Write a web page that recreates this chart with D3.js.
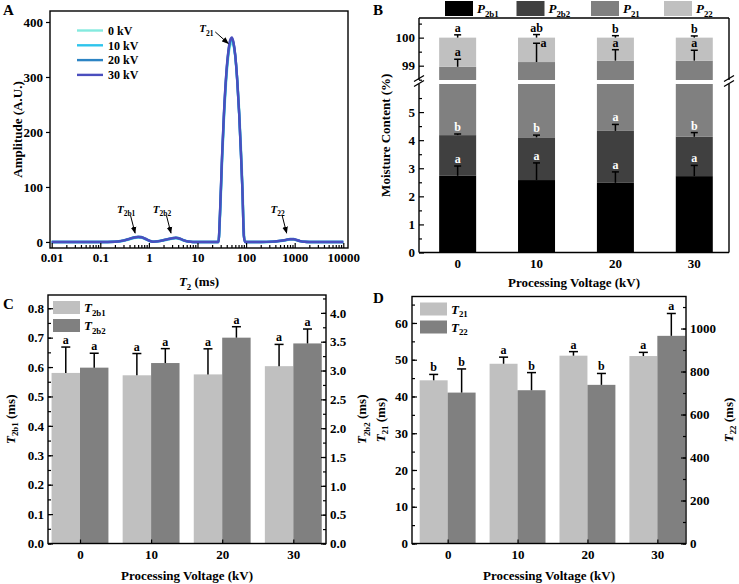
<!DOCTYPE html>
<html><head><meta charset="utf-8">
<script src="https://cdn.jsdelivr.net/npm/d3@7"></script>
<style>
body{margin:0;background:#fff}
svg{display:block}
text{font-family:"Liberation Serif","Times New Roman",serif;font-weight:bold;fill:#000}
</style></head><body>
<svg id="fig" width="739" height="584"></svg>
<script>
// ================= DATA =================
// Panel A : T2 relaxation spectra
const t2Grid = [0.01,0.1,0.2,0.3,0.4,0.5,0.6,0.7,0.85,1.0, 1.2,1.5,2.0,2.5,3.0,3.6,4.3,5.2,6.5,8, 20,27,29,32,35,39,43,47,51,55, 60,66,72,78,84,90,95,200,350,500, 650,800,950,1100,1300,1600,2000,10000];
const amp0kV  = [0,0,0.4,2,4.6,7,8,7.6,5,2.2, 0.5,0.9,2.6,4.5,5.8,6.6,5.3,2.6,0.6,0, 0,0,40,140,220,292,336,357,362,357, 338,296,242,178,110,25,0,0,0.4,1.6, 3,4.2,4.3,3,1.2,0.2,0,0];
const amp10kV = [0,0,0.4,2.2,5,7.5,8.5,8,5.2,2.3, 0.5,1,2.8,4.8,6.2,7,5.6,2.8,0.7,0, 0,0,48,150,228,300,342,363,368,360, 336,290,232,163,93,10,0,0,0.4,1.8, 3.2,4.6,4.6,3.2,1.4,0.3,0,0];
const amp20kV = [0,0,0.5,2.8,6,8.5,9.5,9,6,2.8, 0.6,1.2,3.5,5.5,7,8,6.5,3.2,0.8,0, 0,0,50,154,232,303,344,365,370,362, 338,291,233,165,94,11,0,0,0.5,2.2, 3.8,5.5,5.5,3.8,1.6,0.3,0,0];
const amp30kV = [0,0,0.5,2.5,5.5,8,9,8.5,5.5,2.5, 0.5,1,3,5,6.5,7.5,6,3,0.8,0, 0,0,52,157,234,305,346,367,372,363, 339,292,234,166,95,11,0,0,0.5,2, 3.5,5,5,3.5,1.5,0.3,0,0];
const seriesNamesA = ["0 kV","10 kV","20 kV","30 kV"];
const xTicksA = [0.01,0.1,1,10,100,1000,10000];
const xTickLabelsA = ["0.01","0.1","1","10","100","1000","10000"];
const yTicksA = [0,100,200,300,400];
const peakLabels = [
  {main:"T", sub:"2b1", t:0.52, amp:16},
  {main:"T", sub:"2b2", t:2.85, amp:16},
  {main:"T", sub:"21",  t:43,   amp:361},
  {main:"T", sub:"22",  t:684,  amp:16}
];

// Shared categories
const voltages = [0,10,20,30];
const voltageLabels = ["0","10","20","30"];

// Panel B : proportions (%)
const p2b1 = [2.73, 2.58, 2.48, 2.72];
const p2b1Err = [0.35, 0.61, 0.39, 0.38];
const p2b1Let = ["a","a","a","a"];
const p2b2 = [1.45, 1.52, 1.85, 1.40];
const p2b2Err = [0.04, 0.08, 0.23, 0.15];
const p2b2Let = ["b","b","a","b"];
const p21 = [94.78, 95.03, 94.85, 95.06];
const p21Err = [0.27, 0.67, 0.39, 0.37];
const p21Let = ["a","a","a","a"];
const p22 = [1.04, 0.87, 0.82, 0.82];
const p22Err = [0.10, 0.11, 0.07, 0.06];
const p22Let = ["a","ab","b","b"];
const yTicksBLow = [0,1,2,3,4,5];
const yTicksBUp = [99,100];

// Panel C : T2b1 / T2b2 (ms)
const t2b1 = [0.580, 0.572, 0.575, 0.603];
const t2b1Err = [0.088, 0.074, 0.087, 0.074];
const t2b1Let = ["a","a","a","a"];
const t2b2 = [3.05, 3.13, 3.57, 3.47];
const t2b2Err = [0.25, 0.25, 0.19, 0.25];
const t2b2Let = ["a","a","a","a"];
const yTicksCL = [0,0.1,0.2,0.3,0.4,0.5,0.6,0.7,0.8];
const yTicksCR = [0,0.5,1.0,1.5,2.0,2.5,3.0,3.5,4.0];

// Panel D : T21 / T22 (ms)
const t21 = [44.4, 48.9, 51.1, 51.0];
const t21Err = [1.6, 1.8, 1.1, 1.0];
const t21Let = ["b","a","a","a"];
const t22 = [702, 713, 738, 966];
const t22Err = [110, 82, 53, 104];
const t22Let = ["b","b","b","a"];
const yTicksDL = [0,10,20,30,40,50,60];
const yTicksDR = [0,200,400,600,800,1000];

// ================= DRAWING =================
const svg = d3.select("#fig");
svg.append("rect").attr("width",739).attr("height",584).attr("fill","#fff");
const FF = "Liberation Serif, Times New Roman, serif";
const TF = 13;   // tick font
const LF = 13;   // label font

function richText(parent, x, y, parts, o) {
  o = o || {};
  const size = o.size || LF;
  const txt = parent.append("text").attr("x", x).attr("y", y)
    .attr("font-size", size).attr("text-anchor", o.anchor || "start");
  if (o.fill) txt.style("fill", o.fill);
  let shifted = false;
  parts.forEach(p => {
    const ts = txt.append("tspan").text(p.t);
    if (p.i) ts.attr("font-style", "italic");
    if (p.sub) { ts.attr("font-size", size * 0.68).attr("dy", size * 0.28); shifted = true; }
    else if (shifted) { ts.attr("dy", -size * 0.28); shifted = false; }
  });
  if (o.rotate) txt.attr("transform", `rotate(${o.rotate},${x},${y})`);
  return txt;
}
function styleAxis(g) {
  g.attr("font-family", FF).attr("font-size", TF).attr("font-weight", "bold");
  g.select(".domain").remove();
  g.selectAll(".tick line").attr("stroke", "#000").attr("stroke-width", 1.2);
  g.selectAll(".tick text").style("fill", "#000");
}
function boxLine(g, x1, y1, x2, y2) {
  g.append("line").attr("x1",x1).attr("y1",y1).attr("x2",x2).attr("y2",y2)
    .attr("stroke","#000").attr("stroke-width",1.4);
}
function minorVals(scale, step) {
  const d = scale.domain(); const out = [];
  for (let v = 0; v <= d[1] + 1e-9; v += step) out.push(+v.toFixed(6));
  return out.filter(v => v >= d[0]);
}

// ---------- Panel A ----------
(function(){
  const L=50, R=348, T=11, B=248;
  const g = svg.append("g");
  const x = d3.scaleLog().domain([0.00923, 12500]).range([L, R]);
  const y = d3.scaleLinear().domain([-11, 420]).range([B, T]);
  const colors = ["#84EADF", "#2EC4EC", "#2C84C4", "#4A4EBE"];
  const data = [amp0kV, amp10kV, amp20kV, amp30kV];
  const line = d3.line().x(d => x(d[0])).y(d => y(d[1])).curve(d3.curveMonotoneX);
  data.forEach((arr, k) => {
    g.append("path").datum(t2Grid.map((t, i) => [t, arr[i]]))
      .attr("d", line).attr("fill", "none").attr("stroke", colors[k]).attr("stroke-width", 2.4);
  });
  // minor ticks on x
  const minors = [];
  for (let e = -2; e < 4; e++) for (let m = 2; m <= 9; m++) minors.push(m * Math.pow(10, e));
  const gm = g.append("g").attr("transform", `translate(0,${B})`)
    .call(d3.axisBottom(x).tickValues(minors).tickSizeInner(-3).tickSizeOuter(0).tickFormat(""));
  styleAxis(gm);
  const gx = g.append("g").attr("transform", `translate(0,${B})`)
    .call(d3.axisBottom(x).tickValues(xTicksA).tickSizeInner(-5).tickSizeOuter(0).tickPadding(5)
      .tickFormat((d, i) => xTickLabelsA[i]));
  styleAxis(gx);
  const gy = g.append("g").attr("transform", `translate(${L},0)`)
    .call(d3.axisLeft(y).tickValues(yTicksA).tickSizeInner(4).tickSizeOuter(0).tickPadding(3));
  styleAxis(gy);
  g.append("rect").attr("x", L).attr("y", T).attr("width", R - L).attr("height", B - T)
    .attr("fill", "none").attr("stroke", "#000").attr("stroke-width", 1.4);
  // legend
  seriesNamesA.forEach((n, k) => {
    const yy = 30.5 + k * 14.8;
    g.append("line").attr("x1", 77).attr("x2", 103).attr("y1", yy).attr("y2", yy)
      .attr("stroke", colors[k]).attr("stroke-width", 2.4);
    g.append("text").attr("x", 108).attr("y", yy + 4.3).attr("font-size", 12).text(n);
  });
  // peak annotations
  const defs = svg.append("defs");
  defs.append("marker").attr("id", "arr").attr("viewBox", "0 0 10 10").attr("refX", 9).attr("refY", 5)
    .attr("markerWidth", 7).attr("markerHeight", 7).attr("orient", "auto-start-reverse")
    .append("path").attr("d", "M0,1 L10,5 L0,9 z").attr("fill", "#000");
  peakLabels.forEach(p => {
    const px = x(p.t), py = y(p.amp);
    let sx, sy, tx, ty;
    if (p.sub === "21") { sx = px - 13; sy = py - 11.5; tx = px - 22; ty = py - 11; }
    else { sx = px - 4.5; sy = py - 17.5; tx = px - 9; ty = py - 20; }
    g.append("line").attr("x1", sx).attr("y1", sy).attr("x2", px).attr("y2", py)
      .attr("stroke", "#000").attr("stroke-width", 1).attr("marker-end", "url(#arr)");
    richText(g, tx, ty, [{t: p.main, i: true}, {t: p.sub, sub: true}], {size: 11, anchor: "middle"});
  });
  richText(g, (L + R) / 2, 286, [{t:"T", i:true}, {t:"2", sub:true}, {t:" (ms)"}], {anchor: "middle"});
  g.append("text").attr("transform", `translate(21.5,${(T + B) / 2}) rotate(-90)`)
    .attr("text-anchor", "middle").attr("font-size", LF).text("Amplitude (A.U.)");
  g.append("text").attr("x", 3).attr("y", 15).attr("font-size", 15).text("A");
})();

// ---------- Panel B ----------
(function(){
  const L=419, R=729, T=18, B=252.5;
  const g = svg.append("g");
  const x = d3.scaleLinear().domain([-4.9, 34.4]).range([L, R]);
  const yL = d3.scaleLinear().domain([0, 6]).range([B, 84]);
  const yU = d3.scaleLinear().domain([98.49, 100.70]).range([80, T]);
  const bw = 37;
  const series = [
    {v:p2b1, e:p2b1Err, l:p2b1Let, c:"#000000", lc:"#fff", name:"2b1"},
    {v:p2b2, e:p2b2Err, l:p2b2Let, c:"#404040", lc:"#fff", name:"2b2"},
    {v:p21,  e:p21Err,  l:p21Let,  c:"#808080", lc:"#000", name:"21"},
    {v:p22,  e:p22Err,  l:p22Let,  c:"#C0C0C0", lc:"#000", name:"22"}
  ];
  const lowMax = yL.domain()[1], upMin = yU.domain()[0], upMax = yU.domain()[1];
  const sc = v => v < 50 ? yL(v) : yU(v);
  voltages.forEach((vlt, i) => {
    const cx = x(vlt);
    let base = 0;
    const info = [];
    series.forEach(s => {
      const lo = base, hi = base + s.v[i]; base = hi;
      if (lo < lowMax) {
        const y0 = yL(lo), y1 = yL(Math.min(hi, lowMax));
        g.append("rect").attr("x", cx - bw/2).attr("y", y1).attr("width", bw).attr("height", y0 - y1).attr("fill", s.c);
      }
      if (hi > upMin) {
        const y0 = yU(Math.max(lo, upMin)), y1 = yU(Math.min(hi, upMax));
        g.append("rect").attr("x", cx - bw/2).attr("y", y1).attr("width", bw).attr("height", y0 - y1).attr("fill", s.c);
      }
      info.push({hi: hi, cap: hi + s.e[i], s: s});
    });
    info.forEach((d, k) => {
      const y0 = sc(d.hi), y1 = sc(d.cap);
      g.append("line").attr("x1", cx).attr("x2", cx).attr("y1", y0).attr("y2", y1).attr("stroke", "#000").attr("stroke-width", 1.5);
      g.append("line").attr("x1", cx - 3.5).attr("x2", cx + 3.5).attr("y1", y1).attr("y2", y1).attr("stroke", "#000").attr("stroke-width", 1.5);
      const next = info[k + 1];
      const crowded = next && (y1 - sc(next.cap) < 12);
      if (crowded) {
        g.append("text").attr("x", cx + 4).attr("y", y1 + 4).attr("font-size", 12).style("fill", d.s.lc).text(d.s.l[i]);
      } else {
        g.append("text").attr("x", cx).attr("y", y1 - 3).attr("text-anchor", "middle").attr("font-size", 12).style("fill", d.s.lc).text(d.s.l[i]);
      }
    });
  });
  // axes
  const mk = (scale, vals, size, labels) => {
    const a = d3.axisLeft(scale).tickValues(vals).tickSizeInner(-size).tickSizeOuter(0).tickPadding(4);
    if (!labels) a.tickFormat(""); else a.tickFormat(d3.format("d"));
    const ga = g.append("g").attr("transform", `translate(${L},0)`).call(a);
    styleAxis(ga);
  };
  mk(yL, minorVals(yL, 0.5).filter(v => v % 1 !== 0 && v <= 5.5), 3, false);
  mk(yL, yTicksBLow, 5, true);
  mk(yU, [98.5, 99.5, 100.5], 3, false);
  mk(yU, yTicksBUp, 5, true);
  // x labels
  voltages.forEach((v, i) => g.append("text").attr("x", x(v)).attr("y", 268).attr("text-anchor", "middle").attr("font-size", TF).text(voltageLabels[i]));
  // frame with breaks
  boxLine(g, L, B, R, B);
  boxLine(g, L, T, R, T);
  [L, R].forEach(xx => {
    boxLine(g, xx, B, xx, 84);
    boxLine(g, xx, 80, xx, T);
    [78.5, 83.5].forEach(yy => g.append("line").attr("x1", xx - 5).attr("y1", yy + 3).attr("x2", xx + 5).attr("y2", yy - 3)
      .attr("stroke", "#000").attr("stroke-width", 1.3));
  });
  // legend
  const lx = [445, 516.5, 591, 664];
  series.forEach((s, k) => {
    g.append("rect").attr("x", lx[k]).attr("y", 1).attr("width", 28).attr("height", 15).attr("fill", s.c);
    richText(g, lx[k] + 32, 13, [{t:"P", i:true}, {t:s.name, sub:true}], {size: 13});
  });
  g.append("text").attr("x", (L + R) / 2).attr("y", 287).attr("text-anchor", "middle").attr("font-size", LF).text("Processing Voltage (kV)");
  g.append("text").attr("transform", `translate(389.5,${(T + B) / 2}) rotate(-90)`)
    .attr("text-anchor", "middle").attr("font-size", LF).text("Moisture Content (%)");
  g.append("text").attr("x", 373).attr("y", 15).attr("font-size", 15).text("B");
})();

// ---------- Panels C & D ----------
function dualPanel(c) {
  const g = svg.append("g");
  const {L, R, T, B} = c;
  const x = d3.scaleLinear().domain(c.xd).range([L, R]);
  const yL = d3.scaleLinear().domain([0, c.yLmax]).range([B, T]);
  const yR = d3.scaleLinear().domain([0, c.yRmax]).range([B, T]);
  const bw = x(4) - x(0);
  const sets = [
    {v:c.v1, e:c.e1, l:c.l1, y:yL, col:"#C0C0C0", off:-bw},
    {v:c.v2, e:c.e2, l:c.l2, y:yR, col:"#808080", off:0}
  ];
  sets.forEach(s => {
    voltages.forEach((vlt, i) => {
      const x0 = x(vlt) + s.off, cx = x0 + bw / 2;
      const yv = s.y(s.v[i]), yc = s.y(s.v[i] + s.e[i]);
      g.append("rect").attr("x", x0).attr("y", yv).attr("width", bw).attr("height", B - yv).attr("fill", s.col);
      g.append("line").attr("x1", cx).attr("x2", cx).attr("y1", yv).attr("y2", yc).attr("stroke", "#000").attr("stroke-width", 1.5);
      g.append("line").attr("x1", cx - 4.5).attr("x2", cx + 4.5).attr("y1", yc).attr("y2", yc).attr("stroke", "#000").attr("stroke-width", 1.5);
      g.append("text").attr("x", cx).attr("y", yc - 3).attr("text-anchor", "middle").attr("font-size", 12).text(s.l[i]);
    });
  });
  // axes
  const ax = (gen, tx) => { const ga = g.append("g").attr("transform", tx).call(gen); styleAxis(ga); };
  ax(d3.axisLeft(yL).tickValues(minorVals(yL, c.mL)).tickSizeInner(-3).tickSizeOuter(0).tickFormat(""), `translate(${L},0)`);
  ax(d3.axisLeft(yL).tickValues(c.tL).tickSizeInner(-5).tickSizeOuter(0).tickPadding(4).tickFormat(c.fL), `translate(${L},0)`);
  ax(d3.axisRight(yR).tickValues(minorVals(yR, c.mR)).tickSizeInner(-3).tickSizeOuter(0).tickFormat(""), `translate(${R},0)`);
  ax(d3.axisRight(yR).tickValues(c.tR).tickSizeInner(-5).tickSizeOuter(0).tickPadding(4).tickFormat(c.fR), `translate(${R},0)`);
  ax(d3.axisBottom(x).tickValues(voltages).tickSizeInner(-4).tickSizeOuter(0).tickPadding(6).tickFormat((d, i) => voltageLabels[i]), `translate(0,${B})`);
  g.append("rect").attr("x", L).attr("y", T).attr("width", R - L).attr("height", B - T)
    .attr("fill", "none").attr("stroke", "#000").attr("stroke-width", 1.4);
  // legend
  [[c.n1, "#C0C0C0", 0], [c.n2, "#808080", 18]].forEach(([n, col, dy]) => {
    g.append("rect").attr("x", c.legX).attr("y", T + 6 + dy).attr("width", 27).attr("height", 13).attr("fill", col);
    richText(g, c.legX + 31, T + 17 + dy, [{t:"T", i:true}, {t:n, sub:true}], {size: 13});
  });
  g.append("text").attr("x", (L + R) / 2).attr("y", 580).attr("text-anchor", "middle").attr("font-size", LF).text("Processing Voltage (kV)");
  richText(g, c.ylx, (T + B) / 2, [{t:"T", i:true}, {t:c.n1, sub:true}, {t:" (ms)"}], {anchor: "middle", rotate: -90});
  richText(g, c.yrx, (T + B) / 2, [{t:"T", i:true}, {t:c.n2, sub:true}, {t:" (ms)"}], {anchor: "middle", rotate: -90});
  g.append("text").attr("x", c.letX).attr("y", c.letY).attr("font-size", 15).text(c.letter);
}
dualPanel({L:48, R:326, T:295, B:543.5, xd:[-4.5, 34.6], yLmax:0.845, yRmax:4.31,
  v1:t2b1, e1:t2b1Err, l1:t2b1Let, v2:t2b2, e2:t2b2Err, l2:t2b2Let,
  tL:yTicksCL, tR:yTicksCR, mL:0.05, mR:0.25, fL:d3.format(".1f"), fR:d3.format(".1f"),
  n1:"2b1", n2:"2b2", legX:53, ylx:14.5, yrx:366, letter:"C", letX:3, letY:309});
dualPanel({L:412, R:686, T:296.5, B:543.5, xd:[-5.1, 34.1], yLmax:67.2, yRmax:1149,
  v1:t21, e1:t21Err, l1:t21Let, v2:t22, e2:t22Err, l2:t22Let,
  tL:yTicksDL, tR:yTicksDR, mL:5, mR:100, fL:d3.format("d"), fR:d3.format("d"),
  n1:"21", n2:"22", legX:420, ylx:384.5, yrx:732.5, letter:"D", letX:373, letY:303});
</script>
</body></html>
